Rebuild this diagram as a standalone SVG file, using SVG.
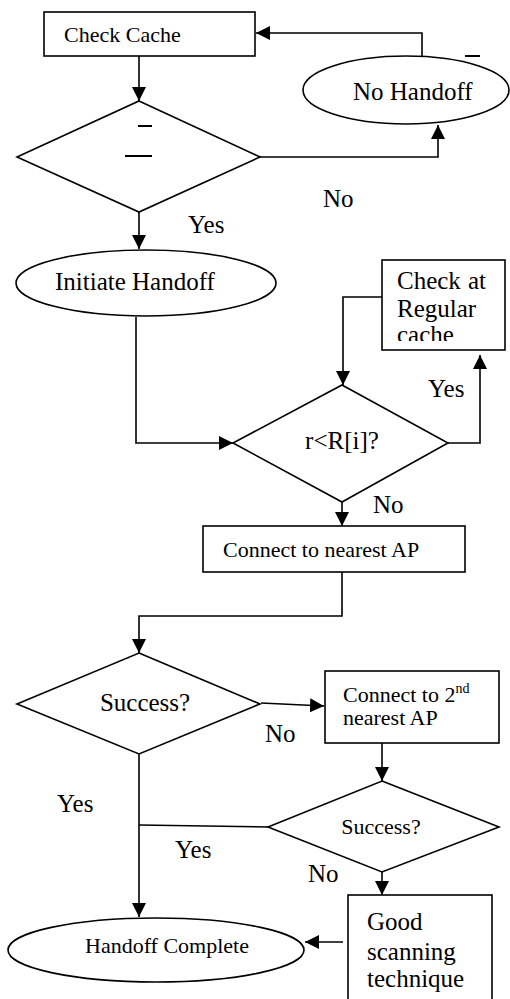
<svg xmlns="http://www.w3.org/2000/svg" width="510" height="999" viewBox="0 0 510 999">
<style>
.s{fill:#fff;stroke:#000;stroke-width:1.6}
.c{fill:none;stroke:#000;stroke-width:1.6}
text{font-family:"Liberation Serif","Times New Roman",serif;fill:#000}
.t22{font-size:22px}
.t25{font-size:25px}
.dash{stroke:#000;stroke-width:2}
</style>
<defs>
<marker id="ah" markerUnits="userSpaceOnUse" markerWidth="14" markerHeight="14" viewBox="0 0 14 14" refX="14" refY="7" orient="auto">
<path d="M0,0 L14,7 L0,14 Z" fill="#000"/>
</marker>
<clipPath id="clipReg"><rect x="382" y="260" width="123" height="81"/></clipPath>
</defs>
<rect width="510" height="999" fill="#fff"/>

<g id="connectors">
<path class="c" d="M139,56 V101" marker-end="url(#ah)"/>
<path class="c" d="M260,157 H438 V125" marker-end="url(#ah)"/>
<path class="c" d="M422,56 V33 H256" marker-end="url(#ah)"/>
<path class="c" d="M139,212 V249" marker-end="url(#ah)"/>
<path class="c" d="M136,317 V443 H233" marker-end="url(#ah)"/>
<path class="c" d="M382,297 H343 V385" marker-end="url(#ah)"/>
<path class="c" d="M448,443 H480 V355" marker-end="url(#ah)"/>
<path class="c" d="M342,502 V526" marker-end="url(#ah)"/>
<path class="c" d="M342,572 V616 H139 V653" marker-end="url(#ah)"/>
<path class="c" d="M261,703 L324,706" marker-end="url(#ah)"/>
<path class="c" d="M382,743 V781" marker-end="url(#ah)"/>
<path class="c" d="M268,827 L139,825"/>
<path class="c" d="M139,754 V917" marker-end="url(#ah)"/>
<path class="c" d="M382,872 V895" marker-end="url(#ah)"/>
<path class="c" d="M343,942 H305" marker-end="url(#ah)"/>
</g>

<g id="check-cache">
<rect class="s" x="44" y="12" width="211" height="44"/>
<text class="t22" x="64" y="42">Check Cache</text>
</g>

<g id="decision-1">
<polygon class="s" points="139,101 260,157 139,212 17,157"/>
<line class="dash" x1="138" y1="126" x2="152" y2="126"/>
<line class="dash" x1="125" y1="156" x2="152" y2="156"/>
</g>

<g id="no-handoff">
<ellipse class="s" cx="406" cy="90" rx="103" ry="34"/>
<text class="t25" x="353" y="100">No Handoff</text>
<line class="dash" x1="465" y1="56" x2="480" y2="56"/>
</g>

<g id="labels-1">
<text class="t25" x="323" y="207">No</text>
<text class="t25" x="188" y="233">Yes</text>
</g>

<g id="initiate-handoff">
<ellipse class="s" cx="146" cy="283" rx="130" ry="33"/>
<text class="t25" x="55" y="290">Initiate Handoff</text>
</g>

<g id="decision-r">
<polygon class="s" points="342,385 448,443 342,502 233,443"/>
<text class="t25" x="342" y="449" text-anchor="middle">r&lt;R[i]?</text>
</g>

<g id="check-regular">
<rect class="s" x="382" y="260" width="123" height="90"/>
<g clip-path="url(#clipReg)">
<text class="t25" x="397" y="289">Check</text>
<text class="t25" x="468" y="289">at</text>
<text class="t25" x="397" y="317">Regular</text>
<text class="t25" x="397" y="343">cache</text>
</g>
</g>

<g id="labels-2">
<text class="t25" x="428" y="397">Yes</text>
<text class="t25" x="373" y="513">No</text>
</g>

<g id="connect-nearest">
<rect class="s" x="203" y="526" width="262" height="46"/>
<text class="t22" x="223" y="557">Connect to nearest AP</text>
</g>

<g id="decision-success-1">
<polygon class="s" points="139,653 260,704 139,754 17,704"/>
<text class="t25" x="145" y="711" text-anchor="middle">Success?</text>
</g>

<g id="connect-2nd">
<rect class="s" x="325" y="671" width="174" height="72"/>
<text class="t22" x="343" y="702">Connect to 2<tspan font-size="14" dy="-9">nd</tspan></text>
<text class="t22" x="343" y="725">nearest AP</text>
</g>

<g id="labels-3">
<text class="t25" x="265" y="742">No</text>
<text class="t25" x="57" y="812">Yes</text>
<text class="t25" x="175" y="858">Yes</text>
<text class="t25" x="308" y="882">No</text>
</g>

<g id="decision-success-2">
<polygon class="s" points="382,781 499,827 382,872 268,827"/>
<text class="t22" x="381" y="834" text-anchor="middle">Success?</text>
</g>

<g id="good-scanning">
<rect class="s" x="348" y="895" width="144" height="115"/>
<text class="t25" x="367" y="930">Good</text>
<text class="t25" x="367" y="960">scanning</text>
<text class="t25" x="367" y="987">technique</text>
</g>

<g id="handoff-complete">
<ellipse class="s" cx="156" cy="950" rx="148" ry="32"/>
<text class="t22" x="85" y="953">Handoff Complete</text>
</g>
</svg>
